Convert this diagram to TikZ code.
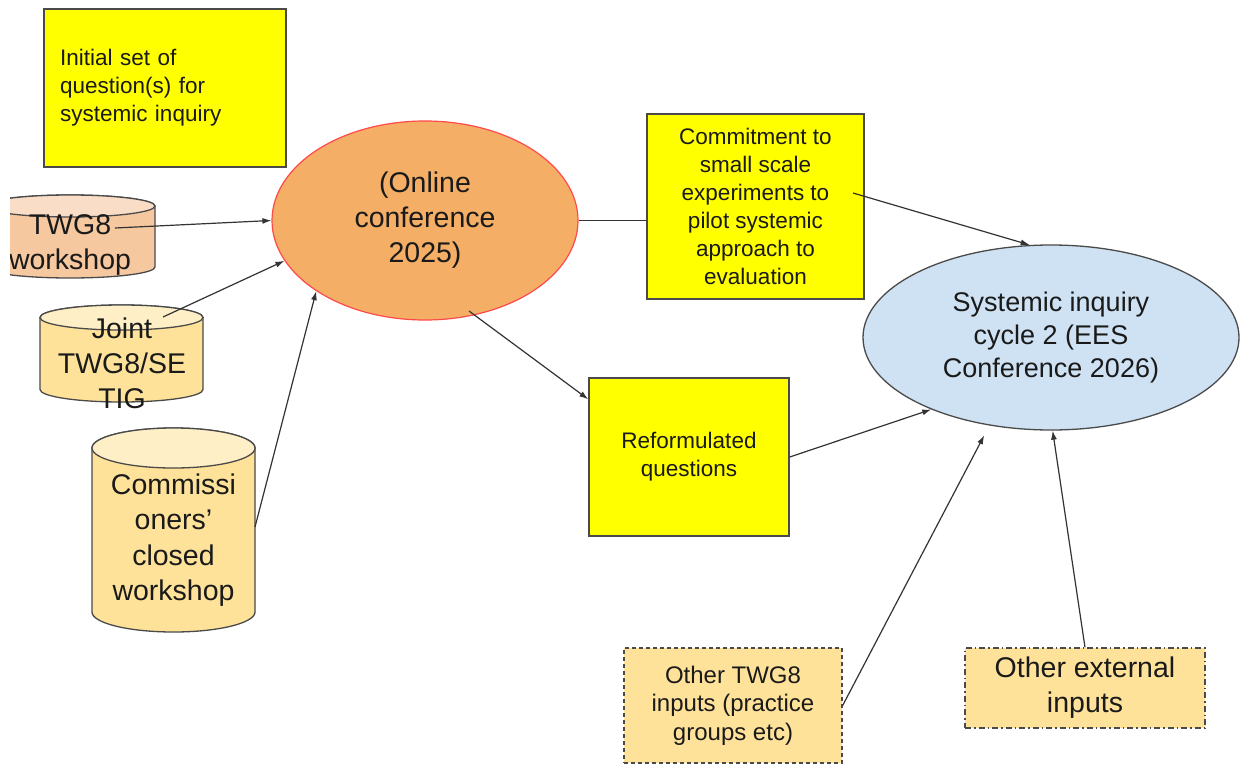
\documentclass[tikz,border=0pt]{standalone}
\usepackage{fontspec}
\setmainfont{Liberation Sans}
\usetikzlibrary{arrows.meta,shapes.geometric}
\definecolor{yel}{HTML}{FFFF00}
\definecolor{edge}{HTML}{4A4A4A}
\definecolor{lineC}{HTML}{333333}
\definecolor{orbody}{HTML}{F4AE66}
\definecolor{orline}{HTML}{FF4A4A}
\definecolor{blfill}{HTML}{CFE2F3}
\definecolor{peach}{HTML}{F6C8A0}
\definecolor{peachtop}{HTML}{FADDC6}
\definecolor{sand}{HTML}{FFE29A}
\definecolor{sandtop}{HTML}{FEEFC6}
\definecolor{ink}{HTML}{1A1A1A}
\tikzset{
 small/.style={font=\fontsize{22.5}{28}\selectfont},
 big/.style={font=\fontsize{28.5}{35}\selectfont},
 txt/.style={inner sep=0pt, align=center, text=ink},
 ybox/.style={draw=edge, line width=1.4pt, fill=yel, inner sep=0pt, text=ink},
 inbox/.style={fill=sand, draw=edge, line width=1.3pt, inner sep=0pt, align=center, text=ink},
 dashbox/.style={dash pattern=on 4pt off 3pt},
 dotbox/.style={dash pattern=on 6pt off 3pt on 1.5pt off 3pt},
 conn/.style={draw=lineC, line width=1.2pt},
 arr/.style={conn, -{Latex[length=9pt,width=6pt]}}
}
\newcommand\mycyl[7]{%
 \filldraw[draw=edge, line width=1.3pt, fill=#6] ({#1-#2},{-#3}) -- ({#1-#2},{-#4})
   arc[start angle=180,end angle=360,x radius=#2pt,y radius=#5pt] -- ({#1+#2},{-#3})
   arc[start angle=0,end angle=180,x radius=#2pt,y radius=#5pt] -- cycle;
 \filldraw[draw=edge, line width=1.3pt, fill=#7] (#1,{-#3}) ellipse[x radius=#2pt, y radius=#5pt];
}
\begin{document}
\begin{tikzpicture}[x=1pt,y=1pt]
\useasboundingbox (0,0) rectangle (1241,-765);
\fill[white] (0,0) rectangle (1241,-765);

% initial box
\node[ybox, small, text width=210pt, align=left, inner xsep=16pt, minimum height=158pt] (init) at (165,-88) {Initial set of\\question(s) for\\systemic inquiry};

% cylinders
\begin{scope}
\clip (10,0) rectangle (400,-765);
\mycyl{70}{85}{206}{267}{11}{peach}{peachtop}
\node[txt,big] (tw) at (70,-245) {TWG8\\workshop};
\end{scope}
\mycyl{121.5}{81.5}{317.5}{389.5}{12.5}{sand}{sandtop}
\node[txt,big] (jt) at (122,-363) {Joint\\TWG8/SE\\TIG};
\mycyl{173.5}{81.5}{448}{612}{20}{sand}{sandtop}
\node[txt,font=\fontsize{28.5}{35.5}\selectfont] (cm) at (173.5,-540) {Commissi\\oners’\\closed\\workshop};

% online conference
\node[ellipse, draw=orline, line width=1.2pt, fill=orbody, minimum width=306pt, minimum height=199pt, txt, big] (oc) at (425,-220.5) {\raisebox{0pt}{(Online}\\conference\\2025)};

% commitment
\node[ybox, small, align=center, minimum width=217pt, minimum height=185pt] (cb) at (755.5,-206.5) {Commitment to\\small scale\\experiments to\\pilot systemic\\approach to\\evaluation};

% systemic inquiry cycle 2
\node[ellipse, draw=edge, line width=1.3pt, fill=blfill, minimum width=376pt, minimum height=185pt, txt, font=\fontsize{27}{33}\selectfont] (bl) at (1051,-337.5) {Systemic inquiry\\cycle 2 (EES\\Conference 2026)};

% reformulated
\node[ybox, small, align=center, minimum width=200pt, minimum height=158pt] (rq) at (689,-457) {Reformulated\\questions};

% other inputs
\node[inbox, dashbox, font=\fontsize{24}{28.5}\selectfont, minimum width=218pt, minimum height=115pt] (ot) at (733,-705.5) {Other TWG8\\inputs (practice\\groups etc)};
\node[inbox, dotbox, big, minimum width=240pt, minimum height=80pt] (oe) at (1085,-688) {Other external\\inputs};

% connectors
\coordinate (twS) at (115,-228);
\coordinate (jtS) at (163,-317);
\coordinate (cmS) at (255,-527);
\coordinate (ocS) at (469,-311);
\coordinate (cbS) at (853,-193);
\draw[arr] (twS) -- (oc.west);
\draw[arr] (jtS) -- (oc.196);
\draw[arr] (cmS) -- (oc.213);
\draw[arr] (ocS) -- ([yshift=-22pt]rq.north west);
\draw[conn] (oc.east) -- (oc.east -| cb.west);
\draw[arr] (cbS) -- (bl.103);
\draw[arr] (rq.east) -- (bl.211);
\draw[arr, shorten >=11pt] (ot.east) -- (bl.235);
\draw[arr] (oe.north) -- (bl.271);
\end{tikzpicture}
\end{document}
